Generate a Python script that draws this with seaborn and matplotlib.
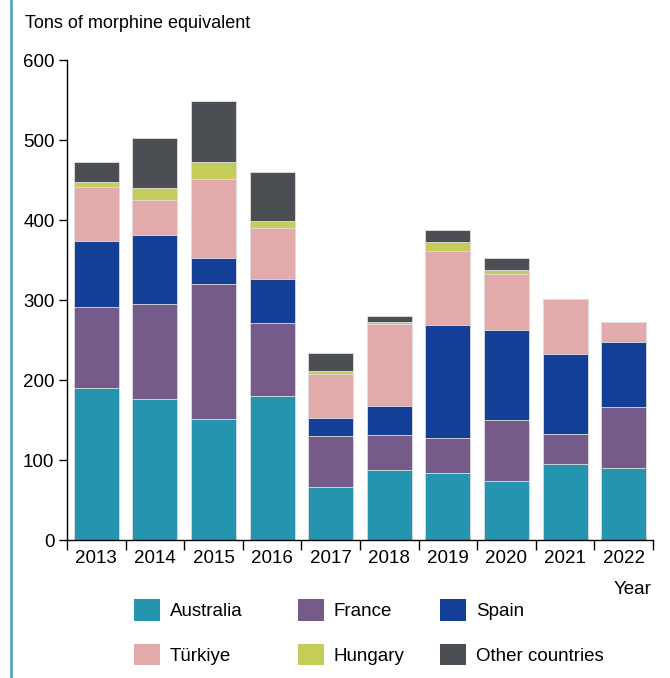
"""
Stacked bars - tons of morphine equivalent by country and year.
"""

import matplotlib
matplotlib.use("Agg")
import matplotlib.pyplot as plt
from matplotlib.lines import Line2D
from matplotlib.patches import Patch
import pandas as pd
import seaborn as sns

YEARS = ["2013", "2014", "2015", "2016", "2017", "2018", "2019", "2020", "2021", "2022"]
AUSTRALIA = [190, 176, 151, 180, 66, 87, 84, 74, 95, 90]
FRANCE = [101, 119, 169, 91, 64, 44, 44, 76, 37, 76]
SPAIN = [83, 86, 33, 55, 23, 37, 141, 113, 100, 81]
TURKIYE = [67, 44, 98, 64, 55, 102, 92, 69, 69, 26]
HUNGARY = [7, 15, 22, 9, 3, 2, 11, 6, 0, 0]
OTHER = [24, 63, 76, 61, 23, 8, 15, 15, 0, 0]

SERIES = {
    "Australia": AUSTRALIA,
    "France": FRANCE,
    "Spain": SPAIN,
    "Türkiye": TURKIYE,
    "Hungary": HUNGARY,
    "Other countries": OTHER,
}
COLORS = {
    "Australia": "#2494AF",
    "France": "#755B8A",
    "Spain": "#143F96",
    "Türkiye": "#E3AAAC",
    "Hungary": "#C4CC5A",
    "Other countries": "#4B4E53",
}
Y_TICKS = [0, 100, 200, 300, 400, 500, 600]

sns.set_style("ticks")
plt.rcParams["font.family"] = ["Liberation Sans", "DejaVu Sans"]
plt.rcParams["text.color"] = "black"
plt.rcParams["xtick.color"] = "black"
plt.rcParams["ytick.color"] = "black"

# long table with cumulative tops (bars are drawn back to front)
rows = []
for name, vals in SERIES.items():
    for year, v in zip(YEARS, vals):
        rows.append({"year": year, "country": name, "value": v})
df = pd.DataFrame(rows)
df["top"] = df.groupby("year")["value"].cumsum()

fig = plt.figure(figsize=(6.7, 6.78), dpi=100)
ax = fig.add_axes([0.1, 0.2035, 0.8746, 0.708])

for name in reversed(list(SERIES)):
    sub = df[df["country"] == name]
    sns.barplot(
        data=sub, x="year", y="top", order=YEARS, color=COLORS[name],
        saturation=1, width=0.77, errorbar=None, ax=ax,
        edgecolor="#e0e0e0", linewidth=0.6,
    )

ax.set_ylim(0, 600)
ax.set_xlim(-0.5, len(YEARS) - 0.5)
ax.set_yticks(Y_TICKS)
ax.tick_params(axis="y", labelsize=13.5, length=6, width=1, direction="out", pad=3)

# ticks between the bars, labels under the bars
ax.set_xticks([i - 0.5 for i in range(len(YEARS) + 1)])
ax.set_xticklabels([])
ax.set_xticks(range(len(YEARS)), minor=True)
ax.set_xticklabels(YEARS, minor=True)
ax.tick_params(axis="x", which="major", length=7, width=1, direction="out")
ax.tick_params(axis="x", which="minor", length=0, labelsize=13.5, pad=7)

ax.set_xlabel("")
ax.set_ylabel("")
for side in ["top", "right"]:
    ax.spines[side].set_visible(False)
for side in ["left", "bottom"]:
    ax.spines[side].set_color("black")
    ax.spines[side].set_linewidth(1)

fig.text(25 / 670, 1 - 24 / 678, "Tons of morphine equivalent", fontsize=13,
         ha="left", va="center")
fig.text(651 / 670, 1 - 590 / 678, "Year", fontsize=13.5, ha="right", va="center")

# legend: one column per call so the column positions match
columns = [
    (134, ["Australia", "Türkiye"]),
    (298, ["France", "Hungary"]),
    (440, ["Spain", "Other countries"]),
]
for x_px, names in columns:
    handles = [Patch(facecolor=COLORS[n], edgecolor="none", label=n) for n in names]
    fig.legend(
        handles=handles, loc="upper left",
        bbox_to_anchor=(x_px / 670, 1 - 599 / 678),
        ncol=1, frameon=False, fontsize=13.5, handlelength=1.4, handleheight=1.4,
        handletextpad=0.5, labelspacing=1.22, borderpad=0, borderaxespad=0,
    )

# left decorative border line
fig.add_artist(Line2D([11 / 670, 11 / 670], [0, 1], color="#5BA3C6", linewidth=2,
                      transform=fig.transFigure))

fig.savefig("out.png", dpi=100)
